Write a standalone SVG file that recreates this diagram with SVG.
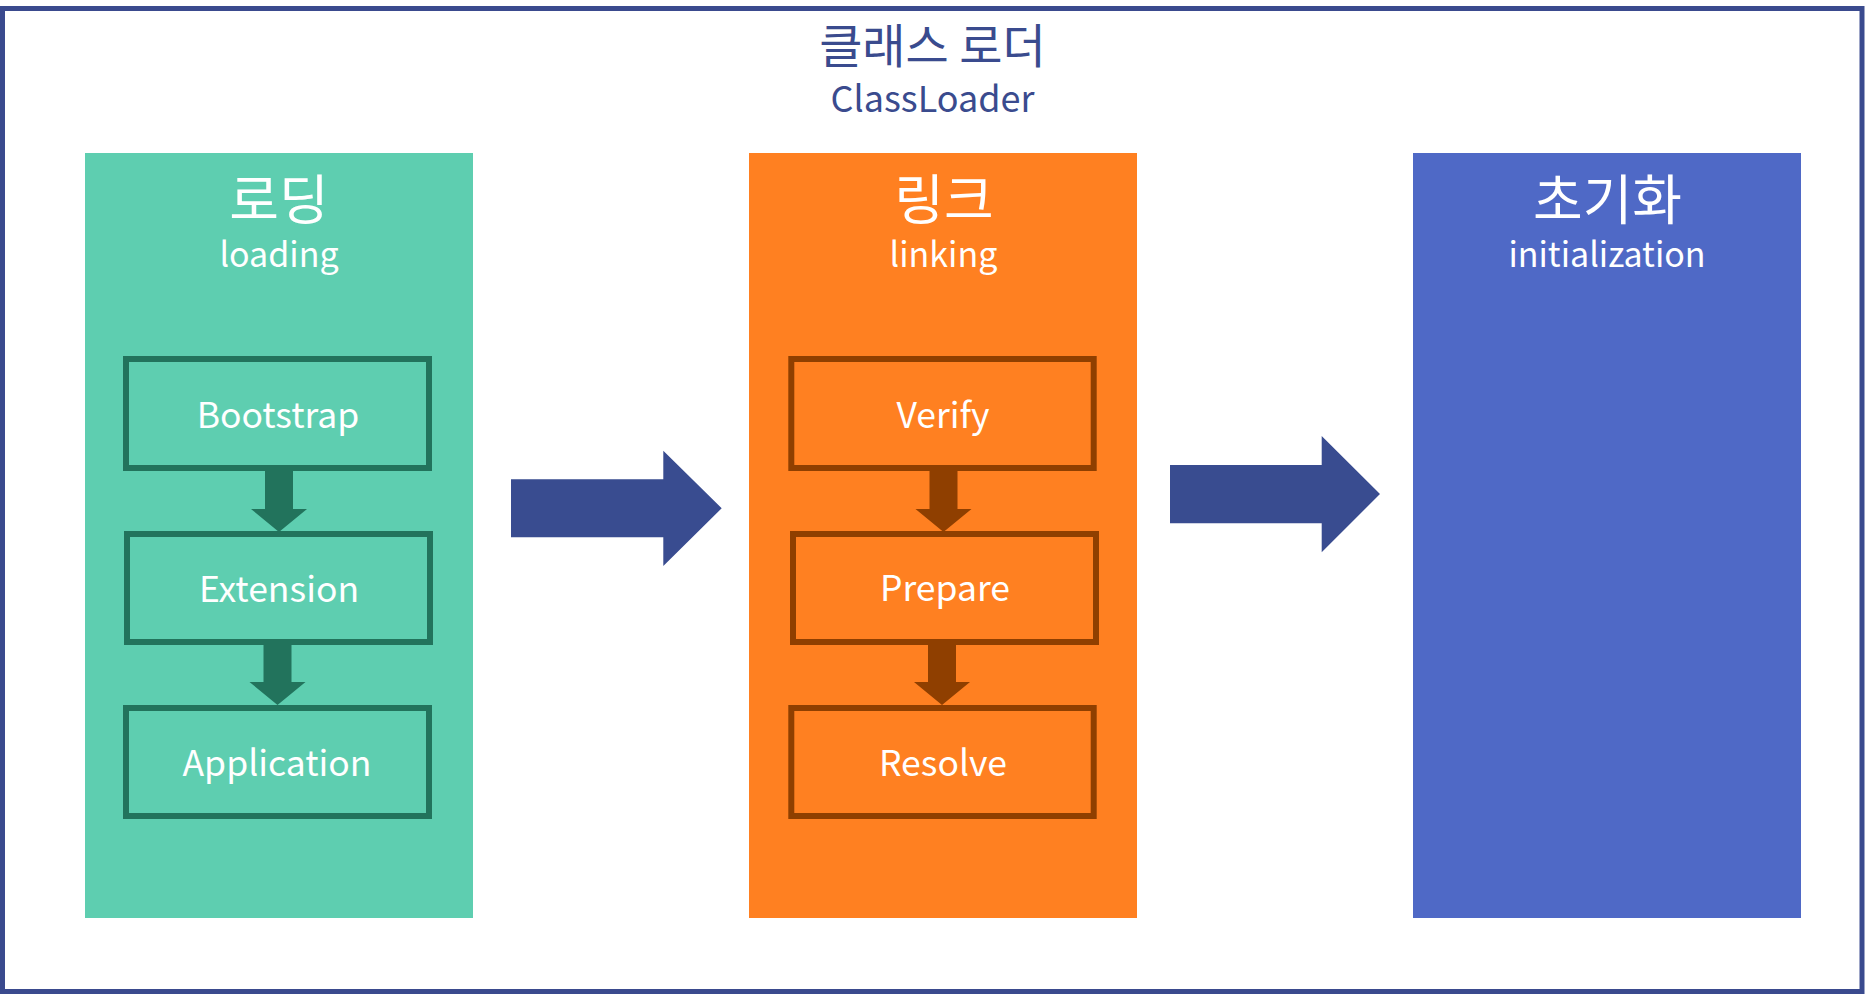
<svg xmlns="http://www.w3.org/2000/svg" width="1865" height="994" viewBox="0 0 1865 994">
  <style>
    text { font-family: "Noto Sans CJK KR", "Noto Sans", "Liberation Sans", sans-serif; text-anchor: middle; }
    .title { fill: #3A4B8E; }
    .w { fill: #FFFFFF; }
    .ko { font-size: 54px; }
    .en { font-size: 34px; }
    .item { font-size: 35.5px; }
    .gbox { fill: #5ECEB0; stroke: #22735C; stroke-width: 6; }
    .obox { fill: #FF8021; stroke: #8F3F00; stroke-width: 6; }
    .garrow { fill: #22735C; }
    .oarrow { fill: #8F3F00; }
    .big { fill: #394C90; }
  </style>
  <rect x="0" y="0" width="1865" height="994" fill="#FFFFFF"/>
  <g id="frame">
    <rect x="2.5" y="8.5" width="1859.5" height="983" fill="none" stroke="#3A4A8E" stroke-width="5"/>
    <text class="title" x="932.5" y="63" font-size="47">클래스 로더</text>
    <text class="title" x="932.5" y="112" font-size="36">ClassLoader</text>
  </g>

  <g id="loading">
    <rect x="85" y="153" width="388" height="765" fill="#5ECEB0"/>
    <text class="w ko" x="279" y="219.5">로딩</text>
    <text class="w en" x="279" y="267">loading</text>
  </g>
  <g id="bootstrap">
    <rect class="gbox" x="126" y="359" width="303" height="109"/>
    <text class="w item" x="278" y="428">Bootstrap</text>
  </g>
  <g id="extension">
    <rect class="gbox" x="127" y="534" width="303" height="108"/>
    <text class="w item" x="279" y="602">Extension</text>
  </g>
  <g id="application">
    <rect class="gbox" x="126" y="708" width="303" height="108"/>
    <text class="w item" x="277" y="776">Application</text>
  </g>

  <g id="linking">
    <rect x="749" y="153" width="388" height="765" fill="#FF8021"/>
    <text class="w ko" x="944" y="219.5">링크</text>
    <text class="w en" x="943.5" y="267">linking</text>
  </g>
  <g id="verify">
    <rect class="obox" x="791.3" y="359" width="302.4" height="109"/>
    <text class="w item" x="943" y="428">Verify</text>
  </g>
  <g id="prepare">
    <rect class="obox" x="793" y="534" width="303" height="108"/>
    <text class="w item" x="945" y="601">Prepare</text>
  </g>
  <g id="resolve">
    <rect class="obox" x="791.3" y="708" width="302.4" height="108"/>
    <text class="w item" x="943" y="776">Resolve</text>
  </g>

  <g id="initialization">
    <rect x="1413" y="153" width="388" height="765" fill="#4F69C6"/>
    <text class="w ko" x="1607.5" y="219.5">초기화</text>
    <text class="w en" x="1607" y="267">initialization</text>
  </g>

  <g id="connectors">
    <polygon class="garrow" points="265,471 293,471 293,509 307,509 279,532 251,509 265,509"/>
    <polygon class="garrow" points="263.5,645 291.5,645 291.5,682 305.5,682 277.5,705 249.5,682 263.5,682"/>
    <polygon class="oarrow" points="929.5,471 957.5,471 957.5,509 971.5,509 943.5,532 915.5,509 929.5,509"/>
    <polygon class="oarrow" points="928,645 956,645 956,682 970,682 942,705 914,682 928,682"/>
    <polygon class="big" points="511,479.3 663.3,479.3 663.3,450.7 721.7,508.3 663.3,566 663.3,537.3 511,537.3"/>
    <polygon class="big" points="1170,465 1321.7,465 1321.7,436 1380,494 1321.7,552.3 1321.7,523.3 1170,523.3"/>
  </g>
</svg>
